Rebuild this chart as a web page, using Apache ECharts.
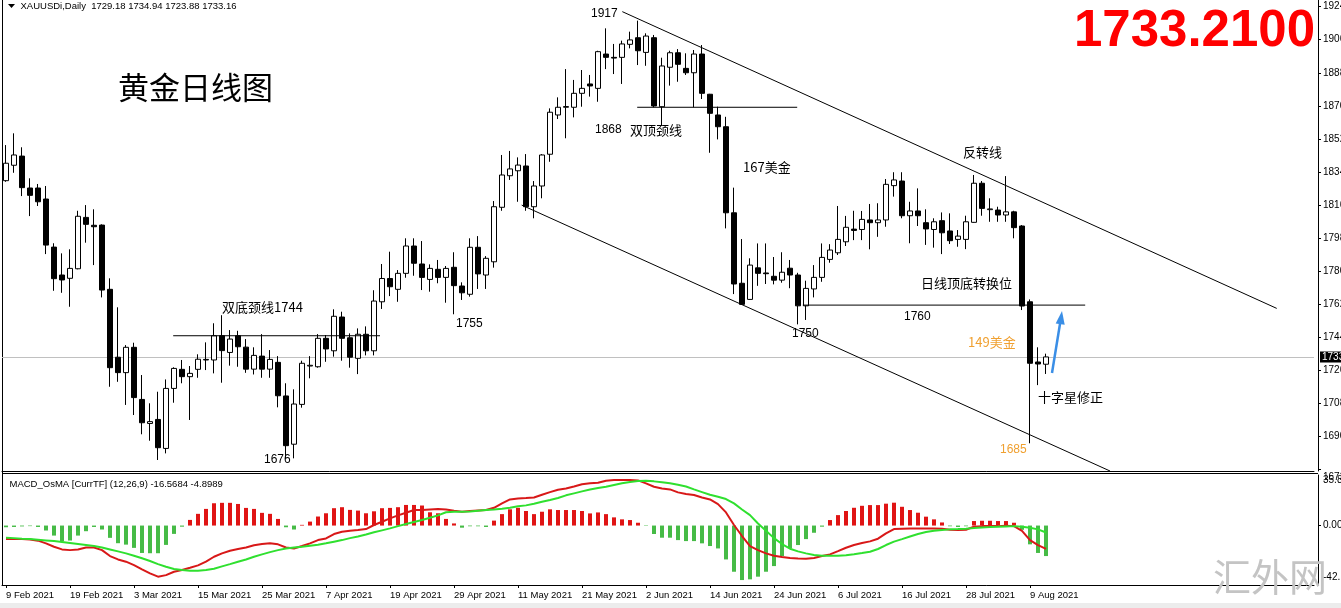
<!DOCTYPE html>
<html><head><meta charset="utf-8">
<script src="https://cdn.jsdelivr.net/npm/echarts@6/dist/echarts.min.js"></script>
<style>html,body{margin:0;padding:0;background:#fff}#c{width:1341px;height:608px}</style>
</head><body><div id="c"></div>
<script>
// ---- trading days (categories) ----
const febDays=[9,10,11,12,15,16,17,18,19,22,23,24,25,26];
const marDays=[1,2,3,4,5,8,9,10,11,12,15,16,17,18,19,22,23,24,25,26,29,30,31];
const aprDays=[1,5,6,7,8,9,12,13,14,15,16,19,20,21,22,23,26,27,28,29,30];
const mayDays=[3,4,5,6,7,10,11,12,13,14,17,18,19,20,21,24,25,26,27,28,31];
const junDays=[1,2,3,4,7,8,9,10,11,14,15,16,17,18,21,22,23,24,25,28,29,30];
const julDays=[1,2,5,6,7,8,9,12,13,14,15,16,19,20,21,22,23,26,27,28,29,30];
const augDays=[2,3,4,5,6,9,10,11];
const blankSlots=33;

// ---- OHLC (XAUUSD daily) ----
const opens=[1829.2,1837.6,1842.6,1825.2,1825.2,1819.2,1793.0,1777.8,1776.0,1781.2,
 1809.2,1804.9,1805.0,1770.0,1733.0,1724.6,1738.4,1710.0,1696.9,1699.1,
 1683.3,1716.0,1726.4,1722.4,1726.4,1731.5,1731.5,1744.7,1735.6,1744.7,
 1738.5,1726.5,1733.6,1726.5,1730.2,1711.9,1685.6,1707.3,1728.2,1727.8,
 1743.3,1736.5,1754.9,1743.6,1732.4,1745.5,1736.5,1763.2,1775.9,1770.0,
 1778.7,1793.6,1783.8,1775.4,1780.9,1776.5,1782.0,1771.8,1767.3,1792.9,
 1777.8,1785.0,1814.7,1831.9,1834.6,1837.2,1815.0,1826.3,1843.6,1865.0,
 1869.2,1869.2,1876.8,1881.9,1879.5,1898.2,1896.4,1896.4,1903.5,1907.1,
 1899.1,1907.1,1869.5,1891.0,1898.9,1890.4,1888.0,1898.2,1876.3,1865.0,
 1858.6,1811.7,1773.3,1764.5,1781.7,1778.9,1777.1,1775.0,1781.5,1777.8,
 1761.0,1770.2,1776.5,1786.3,1789.9,1795.9,1802.8,1802.6,1807.8,1806.3,
 1807.8,1826.5,1829.0,1810.1,1812.7,1806.3,1802.6,1807.4,1801.8,1797.2,
 1797.2,1806.5,1827.8,1813.4,1813.2,1810.5,1812.2,1804.5,1763.2,1730.4,
 1729.18];
const highs=[1848.6,1855.0,1847.4,1830.5,1827.4,1826.3,1795.1,1789.6,1791.8,1812.8,
 1815.9,1813.6,1805.4,1776.0,1760.2,1739.6,1740.9,1723.3,1707.9,1714.2,
 1720.9,1727.5,1731.5,1728.2,1734.6,1741.1,1751.5,1755.9,1747.8,1747.4,
 1742.9,1738.4,1745.6,1736.9,1733.6,1718.8,1715.5,1731.1,1733.6,1745.6,
 1745.1,1759.1,1757.8,1746.0,1748.7,1749.8,1769.5,1783.8,1790.5,1780.5,
 1797.8,1797.8,1796.3,1783.6,1786.0,1782.7,1790.2,1773.8,1797.8,1799.0,
 1788.1,1818.1,1843.2,1845.4,1841.9,1843.7,1829.0,1843.7,1868.6,1874.6,
 1890.0,1884.1,1889.5,1886.8,1900.0,1912.2,1903.7,1905.5,1910.4,1916.4,
 1909.5,1908.6,1896.2,1900.0,1900.9,1898.6,1900.4,1903.1,1876.5,1869.5,
 1864.0,1825.4,1797.4,1786.9,1795.0,1795.0,1787.6,1790.2,1786.0,1779.0,
 1774.7,1783.2,1795.0,1794.6,1815.4,1810.0,1812.8,1812.7,1816.5,1816.9,
 1830.1,1833.8,1833.8,1817.7,1825.0,1813.6,1808.7,1811.9,1811.4,1802.3,
 1810.1,1832.3,1829.0,1819.6,1815.0,1831.7,1812.8,1805.0,1764.5,1738.4,
 1734.94];
const lows=[1828.6,1833.5,1820.8,1809.9,1815.4,1789.2,1769.2,1768.1,1760.5,1780.9,
 1795.4,1783.2,1765.6,1716.9,1719.6,1707.0,1701.5,1691.0,1687.5,1677.0,
 1680.6,1708.2,1718.8,1698.8,1721.8,1726.0,1724.2,1719.1,1728.4,1727.8,
 1724.5,1723.6,1721.8,1721.8,1705.7,1677.9,1677.9,1705.5,1721.5,1727.3,
 1730.5,1733.3,1731.1,1727.3,1723.8,1734.0,1734.0,1759.3,1766.3,1763.2,
 1776.3,1777.4,1769.6,1768.7,1773.3,1762.7,1756.4,1764.2,1766.0,1770.2,
 1770.2,1781.8,1812.8,1829.6,1817.7,1812.8,1808.7,1819.6,1839.5,1862.8,
 1852.3,1863.7,1869.5,1875.0,1872.2,1890.0,1887.3,1881.9,1901.3,1892.2,
 1891.8,1869.2,1859.0,1881.0,1883.1,1886.8,1869.2,1873.7,1844.4,1851.7,
 1803.2,1767.4,1761.5,1764.2,1771.9,1772.9,1772.7,1773.6,1770.6,1750.9,
 1753.3,1765.6,1774.1,1784.5,1788.7,1793.6,1796.8,1796.8,1791.8,1798.6,
 1804.1,1820.5,1808.7,1795.1,1804.5,1794.2,1792.7,1789.2,1794.7,1793.2,
 1791.9,1806.3,1810.1,1806.8,1806.8,1806.8,1797.8,1758.7,1686.1,1717.8,
 1723.88];
const closes=[1838.7,1843.2,1825.4,1821.2,1817.7,1794.1,1775.8,1775.1,1781.4,1809.8,
 1805.4,1804.1,1769.6,1727.3,1724.6,1738.4,1711.0,1697.3,1697.9,1683.7,
 1716.0,1726.9,1722.4,1724.2,1731.9,1731.8,1744.7,1736.6,1742.9,1738.7,
 1726.5,1734.0,1726.5,1731.8,1712.0,1684.8,1707.5,1729.7,1728.6,1743.3,
 1737.5,1755.3,1743.3,1733.0,1745.5,1736.5,1763.6,1775.9,1771.4,1778.7,
 1793.6,1784.2,1776.5,1781.4,1776.5,1781.4,1772.0,1768.1,1792.9,1778.4,
 1786.9,1815.0,1832.3,1835.6,1837.7,1815.0,1826.3,1843.2,1866.5,1869.2,
 1869.6,1876.8,1879.5,1880.8,1899.5,1896.4,1896.0,1903.7,1905.9,1900.0,
 1908.0,1869.9,1891.7,1898.9,1892.6,1888.0,1898.2,1876.8,1865.9,1858.6,
 1811.7,1772.9,1761.8,1783.2,1778.7,1778.5,1775.0,1779.3,1777.8,1761.0,
 1770.5,1776.5,1787.4,1791.4,1797.2,1803.8,1802.1,1808.1,1806.3,1807.8,
 1827.2,1829.6,1810.1,1812.7,1810.1,1802.9,1806.8,1800.8,1796.5,1799.0,
 1806.8,1827.8,1814.1,1813.8,1810.5,1812.2,1803.6,1760.9,1729.7,1729.3,
 1733.16];

// ---- MACD_OsMA (12,26,9) ----
const macdLine=[-9.6,-9.6,-9.6,-9.8,-10.7,-12.6,-15.0,-16.9,-17.4,-16.9,
 -15.5,-15.5,-17.4,-21.6,-24.0,-25.6,-28.0,-31.0,-33.9,-36.2,
 -35.1,-32.7,-31.5,-29.9,-28.2,-25.6,-22.1,-19.7,-17.8,-16.6,
 -15.5,-14.0,-13.1,-12.6,-13.3,-15.5,-16.2,-14.5,-12.6,-10.3,
 -9.1,-6.0,-4.4,-3.7,-3.2,-2.5,0.4,2.7,5.1,7.2,
 9.1,11.0,11.0,11.4,11.7,11.4,10.5,9.8,10.3,10.7,
 11.0,12.6,15.7,18.5,19.2,19.5,19.9,21.8,23.7,25.4,
 26.3,27.7,29.2,29.9,30.3,31.8,32.2,32.2,32.2,32.0,
 29.9,27.5,26.3,25.6,23.5,22.3,21.6,19.9,18.5,15.2,
 9.3,0.4,-7.4,-14.5,-17.4,-19.7,-21.4,-22.3,-23.0,-23.3,
 -23.5,-23.0,-21.6,-20.4,-18.1,-15.7,-13.8,-12.4,-11.2,-9.3,
 -5.5,-2.5,-2.2,-2.0,-2.0,-2.0,-2.0,-2.2,-3.0,-3.2,
 -3.0,-0.8,-0.4,-0.4,-0.4,-0.1,-0.4,-3.7,-10.3,-13.8,
 -16.57];
const signalLine=[-8.6,-8.9,-9.3,-9.6,-10.0,-10.5,-11.0,-11.7,-12.4,-13.1,
 -13.8,-14.5,-15.5,-16.9,-18.3,-19.7,-21.4,-23.2,-25.1,-27.3,
 -29.2,-30.8,-31.5,-32.0,-32.0,-31.5,-30.6,-28.9,-27.3,-25.6,
 -24.0,-22.1,-20.4,-18.8,-17.4,-16.2,-15.5,-15.0,-14.3,-13.6,
 -12.6,-11.4,-10.3,-8.9,-7.7,-6.3,-4.8,-3.4,-2.0,-0.4,
 1.1,2.5,3.9,5.5,7.2,9.4,9.8,9.8,10.0,10.5,
 11.0,11.4,11.9,12.6,13.6,14.3,15.5,16.9,18.1,19.5,
 21.4,22.8,24.2,25.6,26.6,27.5,28.7,29.9,30.8,31.5,
 31.8,31.3,30.6,29.9,28.9,27.7,25.6,23.7,21.8,20.4,
 18.8,15.7,11.4,7.4,1.5,-3.7,-8.9,-13.1,-16.4,-18.3,
 -19.7,-20.9,-21.4,-21.4,-21.4,-21.1,-20.4,-19.5,-18.5,-16.6,
 -13.8,-11.4,-9.6,-7.7,-6.0,-4.6,-3.7,-3.2,-2.7,-2.5,
 -2.2,-1.8,-1.3,-1.1,-0.8,-0.6,-0.4,-0.8,-1.5,-2.7,
 -4.90];
const osmaHist=[-1.2,-1.0,-0.6,-0.4,-1.0,-3.5,-7.1,-11.1,-10.6,-7.1,
 -4.0,-1.0,-2.8,-8.7,-12.5,-13.5,-15.8,-19.4,-19.6,-19.6,
 -13.7,-5.9,-0.8,4.0,8.3,11.8,15.8,16.1,16.1,15.3,
 12.5,11.8,9.0,8.3,4.7,-1.2,-2.8,0.5,2.8,6.4,
 8.7,12.3,13.0,11.1,10.6,8.7,10.1,12.3,12.5,13.0,
 14.6,14.6,14.2,9.4,8.7,4.7,1.5,-1.5,-0.5,-0.5,
 -1.0,3.5,8.1,11.5,12.6,10.3,8.1,9.8,11.5,11.0,
 11.0,11.0,10.3,8.6,9.3,8.1,5.8,4.4,3.9,2.0,
 -0.3,-6.0,-8.6,-8.6,-10.3,-11.0,-11.0,-12.6,-14.5,-16.2,
 -24.0,-32.7,-38.6,-38.1,-36.2,-32.7,-28.7,-21.6,-16.2,-13.8,
 -9.6,-5.1,-0.8,3.9,7.4,10.3,12.6,14.0,14.5,14.5,
 15.5,16.2,13.3,11.0,9.1,6.3,4.4,2.2,-0.5,-1.0,
 -0.5,3.2,3.4,3.4,3.2,3.2,2.0,-3.0,-13.3,-19.4,
 -21.6];

// ---- axis ticks ----
const priceTicks=[1672,1690,1708,1726,1744,1762,1780,1798,1816,1834,1852,1870,1888,1906,1924];
const macdTicks=[35.81,0,-42.10];
const lastPrice=1733.16;

// ---- drawn annotation lines (bar index, price) ----
const upperTrend=[[77.04,1921.3],[158.84,1759.6]];
const lowerTrend=[[64.46,1815.9],[138.0,1671.0]];
const neck1744=[[20.9,1744.7],[46.75,1744.7]];
const neck1868=[[78.9,1869.2],[98.9,1869.2]];
const level1760=[[99.6,1761.4],[134.9,1761.4]];

// ---- build ----
const monthSets=[['Feb',febDays],['Mar',marDays],['Apr',aprDays],['May',mayDays],['Jun',junDays],['Jul',julDays],['Aug',augDays]];
const cats=[];
monthSets.forEach(([m,ds])=>ds.forEach(d=>cats.push(d+' '+m+' 2021')));
const nData=cats.length;
for(let i=0;i<blankSlots;i++)cats.push('');
const ohlc=opens.map((o,i)=>[o,closes[i],lows[i],highs[i]]);

const FONT='"Liberation Sans", Arial, sans-serif';
const CJK='"Noto Sans CJK SC", "Noto Sans CJK JP", sans-serif';
const labelIdx=(i)=> i%8===0 && i<nData;

function annLine(data){
  return {type:'line',xAxisIndex:2,yAxisIndex:0,data:data,symbol:'none',silent:true,
    lineStyle:{color:'#000',width:1},z:4,animation:false};
}
function txt(x,y,t,size,fam,fill,extra){
  return Object.assign({type:'text',x:x,y:y,silent:true,z:100,
    style:{text:t,fontSize:size,fontFamily:fam,fill:fill||'#000',align:'left',verticalAlign:'middle'}},extra||{});
}
const richBase={fontFamily:FONT,fontSize:10,color:'#000'};

const chart=echarts.init(document.getElementById('c'),null,{renderer:'canvas'});
const option={
  animation:false,
  backgroundColor:'#ffffff',
  grid:[
    {left:2,top:0,width:1312,height:471,outerBoundsMode:'none'},
    {left:2,top:475,width:1312,height:110,outerBoundsMode:'none'}
  ],
  xAxis:[
    {type:'category',gridIndex:0,data:cats,boundaryGap:true,
      axisLine:{show:true,onZero:false,lineStyle:{color:'#000',width:1}},axisTick:{show:false},axisLabel:{show:false},splitLine:{show:false}},
    {type:'category',gridIndex:1,data:cats,boundaryGap:true,
      axisLine:{show:true,onZero:false,lineStyle:{color:'#000',width:1}},
      axisTick:{show:true,alignWithLabel:true,interval:labelIdx,length:3,lineStyle:{color:'#000'}},
      axisLabel:{show:true,interval:labelIdx,align:'left',margin:5,fontFamily:FONT,fontSize:9.5,color:'#000'},
      splitLine:{show:false}},
    {type:'value',gridIndex:0,min:-0.5,max:163.5,show:false,axisLine:{onZero:false}}
  ],
  yAxis:[
    {type:'value',gridIndex:0,position:'right',offset:4,min:1671.0,max:1927.65,
      axisLine:{show:true,onZero:false,lineStyle:{color:'#000',width:1}},
      axisTick:{show:true,inside:false,customValues:priceTicks,length:3,lineStyle:{color:'#000'}},
      axisLabel:{show:true,inside:false,customValues:priceTicks,margin:5,fontFamily:FONT,fontSize:10,color:'#000',
        formatter:v=> v<1680 ? '{lo|'+Number(v).toFixed(2)+'}' : Number(v).toFixed(2),
        rich:{lo:Object.assign({padding:[17,0,0,0]},richBase)}},
      splitLine:{show:false}},
    {type:'value',gridIndex:1,position:'right',offset:4,min:-42.10,max:35.81,
      axisLine:{show:true,onZero:false,lineStyle:{color:'#000',width:1}},
      axisTick:{show:true,inside:false,customValues:[0],length:3,lineStyle:{color:'#000'}},
      axisLabel:{show:true,inside:false,customValues:macdTicks,margin:5,fontFamily:FONT,fontSize:10,color:'#000',
        formatter:v=> v>30 ? '{hi|'+Number(v).toFixed(2)+'}' : (v<-30 ? '{lo|'+Number(v).toFixed(2)+'}' : Number(v).toFixed(2)),
        rich:{hi:Object.assign({padding:[11,0,0,0]},richBase),lo:Object.assign({padding:[0,0,15,0]},richBase)}},
      splitLine:{show:false}}
  ],
  series:[
    {type:'candlestick',xAxisIndex:0,yAxisIndex:0,data:ohlc,barWidth:5,z:3,
      itemStyle:{color:'#ffffff',color0:'#000000',borderColor:'#000000',borderColor0:'#000000',borderColorDoji:'#000000',borderWidth:1},
      markLine:{symbol:'none',silent:true,z:1,
        data:[{yAxis:lastPrice}],
        lineStyle:{color:'#c0c0c0',width:1,type:'solid'},
        label:{show:true,position:'end',distance:6,formatter:lastPrice.toFixed(2),
          backgroundColor:'#000',color:'#fff',fontFamily:FONT,fontSize:10,padding:[1,2,0,2]},
        emphasis:{disabled:true}}
    },
    annLine(upperTrend),annLine(lowerTrend),annLine(neck1744),annLine(neck1868),annLine(level1760),
    {type:'bar',xAxisIndex:1,yAxisIndex:1,data:osmaHist,barWidth:4,z:2,
      itemStyle:{color:p=> p.value>=0 ? '#e01414' : '#46bb46'}},
    {type:'line',xAxisIndex:1,yAxisIndex:1,data:macdLine,symbol:'none',z:5,
      lineStyle:{color:'#d81818',width:2}},
    {type:'line',xAxisIndex:1,yAxisIndex:1,data:signalLine,symbol:'none',z:6,
      lineStyle:{color:'#2fe02f',width:2}}
  ],
  graphic:[
    {type:'line',silent:true,shape:{x1:2.5,y1:0,x2:2.5,y2:586},style:{stroke:'#000',lineWidth:1}},
    {type:'line',silent:true,shape:{x1:2,y1:473.5,x2:1318,y2:473.5},style:{stroke:'#000',lineWidth:1}},
    {type:'rect',silent:true,shape:{x:0,y:603,width:1341,height:5},style:{fill:'#ececec'}},
    {type:'polygon',silent:true,shape:{points:[[8,4],[15,4],[11.5,8]]},style:{fill:'#000'}},
    txt(20.5,6.5,'XAUUSDi,Daily  '+[opens[nData-1],highs[nData-1],lows[nData-1],closes[nData-1]].map(v=>v.toFixed(2)).join(' '),9.5,FONT,'#000'),
    txt(9.5,484,'MACD_OsMA [CurrTF] (12,26,9) -16.5684 -4.8989',9.5,FONT,'#000'),
    txt(118,87.5,'黄金日线图',31,CJK,'#000'),
    txt(1315,31.5,'1733.2100',51,FONT,'#ff0000',{style:{text:'1733.2100',fontSize:51,fontFamily:FONT,fontWeight:'bold',fill:'#ff0000',align:'right',verticalAlign:'middle'}}),
    txt(591,13.5,'1917',12,FONT),
    txt(222,307,'双底颈线1744',13,CJK),
    txt(456,324,'1755',12,FONT),
    txt(264,460,'1676',12,FONT),
    txt(595,130,'1868',12,FONT),
    txt(630,130,'双顶颈线',13,CJK),
    txt(743,167.5,'167美金',13,CJK),
    txt(963,152,'反转线',13,CJK),
    txt(921,283,'日线顶底转换位',13,CJK),
    txt(904,317,'1760',12,FONT),
    txt(792,334,'1750',12,FONT),
    txt(968,342,'149美金',13,CJK,'#f0a030'),
    txt(1038,397,'十字星修正',13,CJK),
    txt(1000,450,'1685',12,FONT,'#f0a030'),
    {type:'line',silent:true,z:100,shape:{x1:1052,y1:373,x2:1060.3,y2:322},style:{stroke:'#3a8ee6',lineWidth:2.5}},
    {type:'polygon',silent:true,z:100,shape:{points:[[1062,311],[1055.7,323.5],[1064.7,324.8]]},style:{fill:'#3a8ee6'}},
    txt(1213,577,'汇外网',38,CJK,'#c4c4c4')
  ]
};
chart.setOption(option);
</script>
</body></html>
